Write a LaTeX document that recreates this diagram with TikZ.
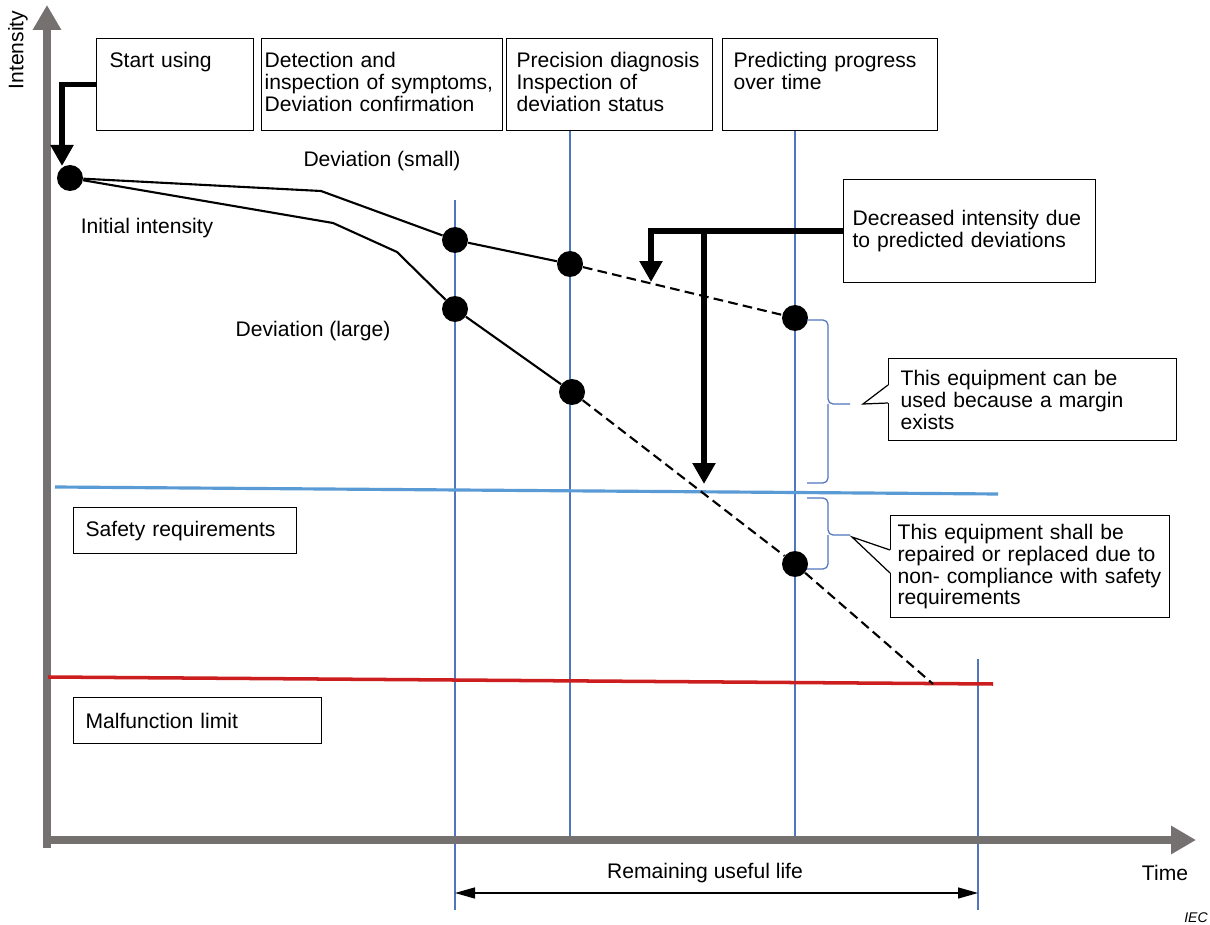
\documentclass[tikz,border=0pt]{standalone}
\usepackage{fontspec}
\setmainfont{Liberation Sans}
\usetikzlibrary{arrows.meta,calc}
\hyphenpenalty=10000
\exhyphenpenalty=10000
\definecolor{cAxis}    {RGB}{118,113,113}
\definecolor{cGrid}    {RGB}{79,118,190}
\definecolor{cSafe}    {RGB}{91,155,213}
\definecolor{cLimit}   {RGB}{204,30,30}
\tikzset{
  axisline/.style={cAxis,line width=0.16cm,-{Triangle[width=0.54cm,length=0.5cm]}},
  gridline/.style={cGrid,line width=0.7pt},
  safeline/.style={cSafe,line width=1.8pt},
  limitline/.style={cLimit,line width=2pt},
  curve/.style={black,line width=1.2pt},
  dashline/.style={dash pattern=on 5.5pt off 3pt},
  dot/.style={circle,fill=black,inner sep=0pt,minimum size=0.52cm},
  callarrow/.style={line width=0.11cm,-{Triangle[width=0.44cm,length=0.42cm]}},
  rularrow/.style={line width=0.8pt,{Triangle[width=0.22cm,length=0.4cm]}-{Triangle[width=0.22cm,length=0.4cm]}},
  stagebox/.style={draw,line width=0.7pt,anchor=north west,align=left,
    inner xsep=0.26cm,inner ysep=0pt,text height=0.58cm,text depth=1.26cm},
  labelbox/.style={draw,line width=0.7pt,fill=white,anchor=north west,align=left,
    inner xsep=0.24cm,inner ysep=0pt,minimum height=0.92cm},
  bracket/.style={cGrid,line width=0.7pt,rounded corners=0.1cm}
}
% pointer of a callout box: box, base top, base bottom (offsets from top), tip
\newcommand{\calloutPointer}[4]{%
  \fill[white] ($(#1.north west)+(0.9,#2)$) -- (#4) -- ($(#1.north west)+(0.9,#3)$) -- cycle;
  \draw[line width=0.7pt] ($(#1.north west)+(0,#2)$) -- (#4) -- ($(#1.north west)+(0,#3)$);
}
% blue bracket right of the last inspection line: top y, bottom y, tip y
\newcommand{\marginBrace}[3]{%
  \draw[bracket] (807,#1) -- (828,#1) -- (828,#3) -- (850,#3);
  \draw[bracket] (807,#2) -- (828,#2) -- (828,#3);
}

\begin{document}
\begin{tikzpicture}[x=0.02cm,y=-0.02cm,font=\fontsize{12}{12.5}\selectfont]

% fundo
\fill[white] (0,0) rectangle (1210,925);
\useasboundingbox (0,0) rectangle (1210,925);

% =================== INSPECTION LINES ===================
\draw[gridline] (455,200) -- (455,910);
\draw[gridline] (570,130) -- (570,838);
\draw[gridline] (795,130) -- (795,838);
\draw[gridline] (978,659) -- (978,910);

% =================== AXES ===================
\draw[axisline] (47,848) -- (47,5);
\draw[axisline] (43,840) -- (1196,840);
\node[rotate=90] (yLabel) at (18,50) {Intensity};
\node (xLabel) at (1165,873) {Time};
\node[font=\fontsize{8}{9}\selectfont\itshape] (iec) at (1196,918) {IEC};

% =================== STAGES ===================
\node[stagebox,text width=2.62cm] (stage1) at (96,38) {Start using};
\node[stagebox,text width=4.7cm,inner xsep=0.06cm] (stage2) at (261,38)
  {Detection and\\inspection of symptoms,\\Deviation confirmation};
\node[stagebox,text width=3.72cm,inner xsep=0.2cm] (stage3) at (506,38)
  {Precision diagnosis\\Inspection of\\deviation status};
\node[stagebox,text width=3.86cm,inner xsep=0.22cm] (stage4) at (722,38)
  {Predicting progress\\over time};

% =================== LIMITS ===================
\draw[safeline] (55,487) -- (998,494);
\draw[limitline] (48,677) -- (993,684);
\node[labelbox,text width=3.98cm] (safeBox) at (73,507) {Safety requirements};
\node[labelbox,text width=4.48cm] (limitBox) at (73,697) {Malfunction limit};

% =================== INTENSITY CURVES ===================
\node[dot] (d0) at (70,178) {};
\node[dot] (s1) at (455,240) {};
\node[dot] (s2) at (570,264) {};
\node[dot] (s3) at (795,318) {};
\node[dot] (l1) at (455,309) {};
\node[dot] (l2) at (572,392) {};
\node[dot] (l3) at (795,564) {};
\coordinate (sBend) at (321,191);
\coordinate (lBend1) at (333,223);
\coordinate (lBend2) at (397,252);
\coordinate (lEnd) at (933,684);
\draw[curve] (d0) -- (sBend) -- (s1) -- (s2);
\draw[curve,dashline] (s2) -- (s3);
\draw[curve] (d0) -- (lBend1) -- (lBend2) -- (l1) -- (l2);
\draw[curve,dashline] (l2) -- (l3) -- (lEnd);

\node (initLbl) at (147,228) {Initial intensity};
\node (smallLbl) at (382,161) {Deviation (small)};
\node (largeLbl) at (313,331) {Deviation (large)};

% start of use
\coordinate (startTip) at (62,166);
\draw[callarrow] (stage1.west) -| (startTip);

% predicted decrease
\node[labelbox,text width=4.68cm,inner xsep=0.18cm,minimum height=2.06cm] (decBox) at (843,179)
  {Decreased intensity due\\to predicted deviations};
\coordinate (decTipA) at (651,282);
\coordinate (decTipB) at (704,484);
\draw[callarrow] (decBox.west) -| (decTipA);
\draw[callarrow] (decBox.west -| decTipB) -- (decTipB);

% =================== MARGIN CALLOUTS ===================
\marginBrace{320}{483}{404}
\marginBrace{498}{569}{535}
\node[labelbox,text width=5.28cm,minimum height=1.64cm] (useBox) at (888,358)
  {This equipment can be\\used because a margin\\exists};
\coordinate (useTip) at (863,404);
\calloutPointer{useBox}{27}{45}{useTip}
\node[labelbox,text width=5.3cm,inner xsep=0.14cm,minimum height=2.04cm] (fixBox) at (890,515)
  {This equipment shall be\\repaired or replaced due to\\non- compliance with safety\\requirements};
\coordinate (fixTip) at (852,537);
\calloutPointer{fixBox}{35}{58}{fixTip}

% =================== REMAINING USEFUL LIFE ===================
\coordinate (rulL) at (455,893);
\coordinate (rulR) at (978,893);
\draw[rularrow] (rulL) -- (rulR);
\node (rulLbl) at (705,873) {Remaining useful life};

\end{tikzpicture}
\end{document}
